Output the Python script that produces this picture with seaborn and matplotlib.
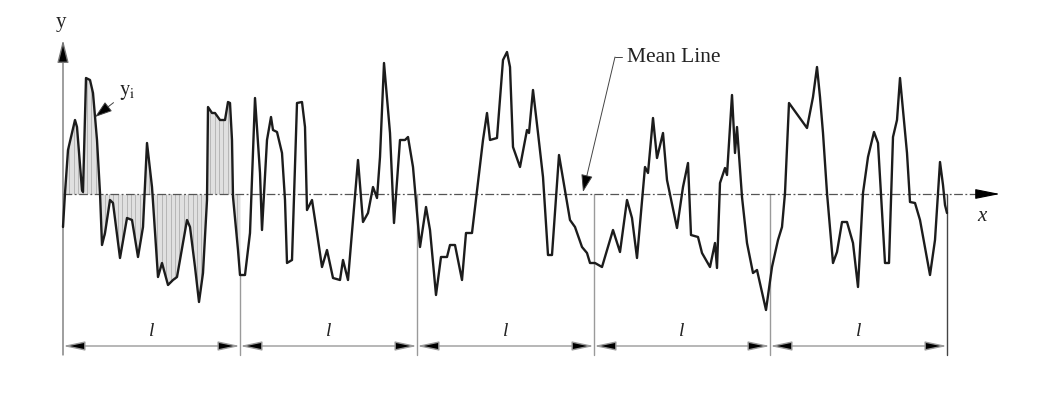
import numpy as np
import pandas as pd
import matplotlib
matplotlib.use("Agg")
import matplotlib.pyplot as plt
import seaborn as sns

# Roughness profile: position along the surface and height about the mean line
pos = [0, 2, 5, 12, 14, 19, 20, 23, 27, 30,
       34, 37, 39, 42, 47, 50, 57, 64, 69, 75,
       80, 84, 89, 95, 99, 105, 110, 114, 124, 127,
       132, 136, 140, 144, 145, 149, 152, 157, 162, 165,
       167, 169, 170, 175, 177, 182, 187, 192, 197, 199,
       204, 208, 210, 214, 219, 222, 224, 229, 234, 239,
       242, 244, 249, 254, 259, 264, 270, 277, 280, 285,
       295, 300, 305, 310, 314, 317, 321, 327, 331, 337,
       342, 345, 350, 357, 363, 367, 373, 378, 384, 387,
       392, 399, 403, 409, 420, 424, 427, 434, 440, 444,
       447, 450, 457, 464, 466, 470, 475, 480, 485, 489,
       496, 507, 512, 519, 524, 527, 532, 539, 550, 557,
       564, 569, 574, 582, 585, 590, 594, 600, 604, 614,
       620, 625, 628, 635, 639, 647, 652, 654, 657, 662,
       664, 669, 672, 674, 679, 684, 690, 694, 703, 709,
       715, 719, 722, 726, 744, 750, 754, 757, 760, 764,
       770, 774, 779, 784, 790, 795, 800, 805, 811, 815,
       817, 822, 826, 830, 834, 837, 840, 844, 847, 852,
       857, 867, 872, 877, 880, 882, 884]
height = [-33, 1, 44, 74, 67, 4, 2, 116, 114, 101,
          54, 1, -51, -39, -6, -9, -64, -24, -26, -63,
          -33, 51, 7, -83, -69, -91, -86, -83, -26, -33,
          -73, -108, -79, -6, 87, 81, 81, 74, 74, 92,
          91, 54, -3, -56, -81, -81, -39, 96, 21, -36,
          54, 77, 64, 62, 41, -6, -69, -66, 91, 92,
          67, -16, -6, -39, -73, -56, -84, -86, -66, -86,
          34, -28, -19, 7, -4, 37, 131, 61, -29, 54,
          54, 57, 27, -53, -13, -36, -101, -63, -63, -51,
          -51, -86, -39, -39, 54, 81, 54, 56, 134, 142,
          127, 47, 27, 64, 61, 104, 61, 17, -61, -61,
          39, -26, -33, -53, -59, -69, -69, -73, -36, -58,
          -6, -24, -64, 27, 21, 76, 36, 61, 14, -34,
          7, 31, -41, -43, -59, -73, -49, -74, 11, 26,
          19, 99, 41, 67, -3, -49, -79, -76, -116, -73,
          -46, -33, 1, 91, 66, 97, 127, 97, 61, 1,
          -69, -58, -28, -28, -49, -93, 1, 37, 62, 51,
          17, -69, -69, 57, 74, 116, 84, 41, -8, -9,
          -26, -81, -46, 32, 9, -11, -19]

# Five sampling lengths l
section_edges = [0, 177, 354, 531, 707, 884]
section_label = "l"

profile = pd.DataFrame({"pos": pos, "height": height})

sns.set_theme(style="white")
plt.rcParams["font.family"] = ["Liberation Serif", "DejaVu Serif"]
plt.rcParams["mathtext.fontset"] = "stix"

fig = plt.figure(figsize=(10.62, 4.07), dpi=100)
ax = fig.add_axes([0, 0, 1, 1])
ax.set_xlim(-63, 999)
ax.set_ylim(-213, 194)
ax.axis("off")

base = -161      # lower end of the section dividers
dim_y = -152     # level of the dimension arrows
grey = "#9a9a9a"

# Shaded ordinates y_i over the first sampling length
first = profile[profile["pos"] <= section_edges[1]]
ax.fill_between(first["pos"], 0, first["height"], color="#e0e0e0", lw=0, zorder=1)
xs = np.arange(2, section_edges[1], 4.4)
ax.vlines(xs, 0, np.interp(xs, profile["pos"], profile["height"]),
          color="#b0b0b0", lw=0.6, zorder=1)

# Section dividers
for e in section_edges[1:]:
    top = np.interp(e, profile["pos"], profile["height"]) if e == section_edges[1] else 0
    ax.plot([e, e], [base, min(top, 0)], color=grey if e != section_edges[-1] else "#444",
            lw=1.0, zorder=1)

# Mean line (x axis) with arrow
ax.plot([0, 925], [0, 0], color="#555", lw=0.9, ls=(0, (7, 2, 1.5, 2)), zorder=2)
ax.annotate("", xy=(937, 0), xytext=(916, 0),
            arrowprops=dict(arrowstyle="-|>,head_length=1.1,head_width=0.22",
                            mutation_scale=14, fc="black", ec="black", lw=0.8,
                            shrinkA=0, shrinkB=0), zorder=3)

# y axis with arrow
ax.annotate("", xy=(0, 154), xytext=(0, base),
            arrowprops=dict(arrowstyle="-|>,head_length=1.0,head_width=0.25",
                            mutation_scale=14, fc="black", ec="#777", lw=1.0,
                            shrinkA=0, shrinkB=0), zorder=3)

# Profile
sns.lineplot(data=profile, x="pos", y="height", sort=False, estimator=None,
             color="#1c1c1c", lw=1.7, ax=ax, zorder=4)

# Dimension arrows for each sampling length
for a, b in zip(section_edges[:-1], section_edges[1:]):
    ax.annotate("", xy=(a, dim_y), xytext=(b, dim_y),
                arrowprops=dict(arrowstyle="<|-|>,head_length=0.95,head_width=0.2",
                                mutation_scale=14, fc="black", ec=grey, lw=1.0,
                                shrinkA=0, shrinkB=0), zorder=3)
    ax.text((a + b) / 2, dim_y + 6, section_label, style="italic", fontsize=14,
            ha="center", va="bottom", color="#222")

# Labels
ax.text(-2, 172, "y", fontsize=15, ha="center", va="center", color="#222")
ax.text(919, -22, "x", style="italic", fontsize=15, ha="center", va="center", color="#222")
ax.annotate(r"$\mathrm{y_i}$", xy=(32, 77), xytext=(56, 102), fontsize=15,
            ha="left", va="center", color="#222",
            arrowprops=dict(arrowstyle="-|>,head_length=0.9,head_width=0.3",
                            mutation_scale=12, fc="black", ec="#444", lw=0.7,
                            shrinkA=2, shrinkB=0), zorder=5)

# Mean line callout: short tick, then leader down to the mean line
ax.text(564, 137, "Mean Line", fontsize=15.5, ha="left", va="center", color="#222")
ax.plot([552, 559], [137, 137], color="#444", lw=0.7, zorder=5)
ax.annotate("", xy=(520, 2), xytext=(552, 137),
            arrowprops=dict(arrowstyle="-|>,head_length=0.9,head_width=0.3",
                            mutation_scale=12, fc="black", ec="#444", lw=0.7,
                            shrinkA=0, shrinkB=0), zorder=5)

fig.savefig("out.png", dpi=100)
